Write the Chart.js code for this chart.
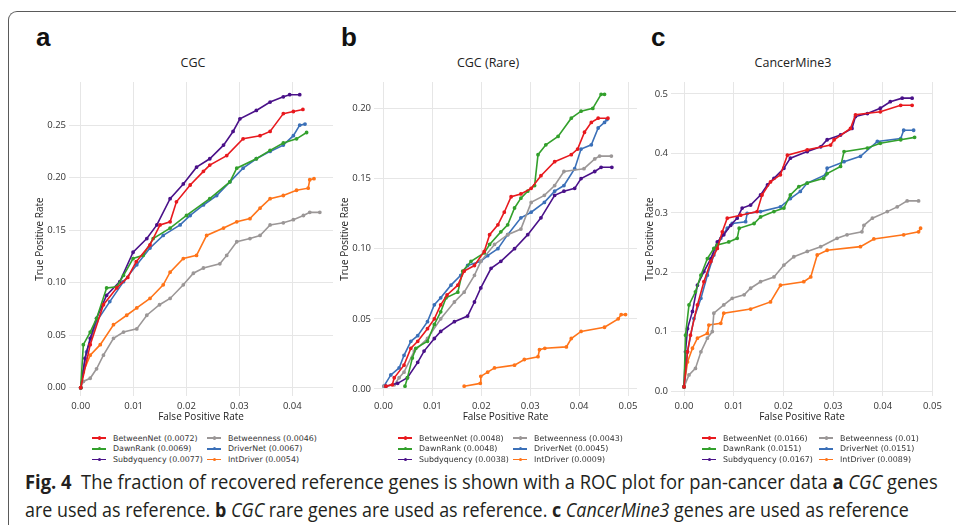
<!DOCTYPE html>
<html>
<head>
<meta charset="utf-8">
<script src="https://cdn.jsdelivr.net/npm/chart.js@4.4.1/dist/chart.umd.min.js"></script>
<style>
  body { margin: 0; width: 956px; height: 525px; background: #fff; position: relative; overflow: hidden; font-family: 'Open Sans', sans-serif; }
  .frame { position: absolute; left: 8px; top: 11px; width: 1000px; height: 600px; border-top: 1.5px solid #5a5a5a; border-left: 1.5px solid #5a5a5a; border-top-left-radius: 9px; }
  .letter { position: absolute; top: 22px; font: bold 26px 'Liberation Sans', Arial, sans-serif; color: #111; }
  .ptitle { position: absolute; top: 54px; font-size: 12.5px; color: #222; transform: translateX(-50%); white-space: nowrap; }
  canvas { position: absolute; top: 40px; }
  .legend { position: absolute; top: 432.7px; display: grid; grid-template-rows: repeat(3, 10.7px); grid-auto-flow: column; font: 7.9px 'DejaVu Sans', sans-serif; color: #333; }
  .item { display: flex; align-items: center; white-space: nowrap; }
  .swatch { width: 14px; height: 1.6px; position: relative; margin-right: 7px; }
  .swatch i { position: absolute; left: 5.5px; top: -0.9px; width: 3.4px; height: 3.4px; border-radius: 50%; }
  .caption { position: absolute; left: 25px; font-size: 20px; line-height: 28px; color: #231f20; white-space: nowrap; transform-origin: left center; }
</style>
</head>
<body>
<div class="frame"></div>
<div class="letter" style="left:36px">a</div>
<div class="letter" style="left:341px">b</div>
<div class="letter" style="left:651px">c</div>
<div class="ptitle" style="left:193px">CGC</div>
<div class="ptitle" style="left:488px">CGC (Rare)</div>
<div class="ptitle" style="left:793px">CancerMine3</div>
<canvas id="cgc" width="345" height="392" style="left:0px"></canvas>
<canvas id="rare" width="320" height="392" style="left:330px"></canvas>
<canvas id="cm3" width="326" height="392" style="left:630px"></canvas>
<div class="caption" id="cap1" style="top:468px"><b>Fig. 4</b>&nbsp; The fraction of recovered reference genes is shown with a ROC plot for pan-cancer data <b>a</b> <i>CGC</i> genes</div>
<div class="caption" id="cap2" style="top:496px">are used as reference. <b>b</b> <i>CGC</i> rare genes are used as reference. <b>c</b> <i>CancerMine3</i> genes are used as reference</div>

<script>
const methods = ['BetweenNet', 'DawnRank', 'Subdyquency', 'Betweenness', 'DriverNet', 'IntDriver']
const colors = ['#e8191e', '#33a02c', '#4a1189', '#9b9797', '#3b70b8', '#ff7419']

// area under curve shown in legends
const cgcAuc = [0.0072, 0.0069, 0.0077, 0.0046, 0.0067, 0.0054]
const rareAuc = [0.0048, 0.0048, 0.0038, 0.0043, 0.0045, 0.0009]
const cm3Auc = [0.0166, 0.0151, 0.0167, 0.01, 0.0151, 0.0089]

// ===== a: CGC  [fpr, tpr] =====
const cgcBetweenNet = [[0,0],[0.0018,0.041],[0.0043,0.079],[0.0068,0.095],[0.0089,0.105],[0.0105,0.12],[0.0131,0.136],[0.015,0.155],[0.0169,0.158],[0.0181,0.177],[0.0207,0.193],[0.0232,0.206],[0.0244,0.212],[0.0276,0.221],[0.0307,0.237],[0.0339,0.24],[0.0358,0.244],[0.0383,0.261],[0.0402,0.263],[0.042,0.265]]
const cgcDawnRank = [[0,0],[0.0005,0.041],[0.0018,0.053],[0.003,0.066],[0.0049,0.095],[0.0068,0.096],[0.0081,0.107],[0.0099,0.123],[0.0118,0.126],[0.0137,0.142],[0.0169,0.152],[0.02,0.164],[0.0244,0.18],[0.0282,0.196],[0.0295,0.209],[0.0332,0.218],[0.0358,0.226],[0.0383,0.233],[0.0408,0.237],[0.0427,0.243]]
const cgcSubdyquency = [[0,0],[0.0008,0.028],[0.0018,0.047],[0.003,0.066],[0.0049,0.088],[0.0074,0.101],[0.0099,0.129],[0.0125,0.142],[0.0144,0.155],[0.0169,0.18],[0.0194,0.194],[0.0219,0.21],[0.0244,0.218],[0.027,0.231],[0.0288,0.244],[0.0301,0.256],[0.0332,0.264],[0.0358,0.272],[0.0383,0.277],[0.0395,0.279],[0.0414,0.279]]
const cgcBetweenness = [[0,0],[0.0005,0.006],[0.0018,0.009],[0.003,0.018],[0.0043,0.031],[0.0062,0.047],[0.0081,0.053],[0.0106,0.056],[0.0125,0.069],[0.0149,0.079],[0.0169,0.085],[0.0194,0.098],[0.0213,0.109],[0.0232,0.114],[0.0263,0.118],[0.0276,0.126],[0.0295,0.139],[0.032,0.142],[0.0339,0.145],[0.0358,0.155],[0.0383,0.157],[0.0402,0.16],[0.0421,0.164],[0.0433,0.167],[0.0452,0.167]]
const cgcDriverNet = [[0,0],[0.0011,0.034],[0.003,0.063],[0.0055,0.082],[0.0081,0.101],[0.0106,0.117],[0.0131,0.133],[0.0156,0.145],[0.0188,0.155],[0.0207,0.164],[0.0232,0.174],[0.0257,0.183],[0.0282,0.196],[0.0307,0.209],[0.0332,0.218],[0.0358,0.225],[0.0383,0.231],[0.0402,0.24],[0.0414,0.25],[0.0424,0.251]]
const cgcIntDriver = [[0,0],[0.0005,0.015],[0.0018,0.031],[0.0037,0.041],[0.0062,0.06],[0.0087,0.069],[0.0106,0.076],[0.0131,0.085],[0.0156,0.098],[0.0169,0.11],[0.0194,0.123],[0.0219,0.126],[0.0238,0.145],[0.027,0.152],[0.0295,0.158],[0.032,0.161],[0.0339,0.171],[0.0358,0.18],[0.0383,0.183],[0.0408,0.188],[0.043,0.19],[0.0433,0.198],[0.0441,0.199]]

// ===== b: CGC (Rare) =====
const rareBetweenNet = [[0.0005,0.002],[0.0018,0.003],[0.0022,0.008],[0.0042,0.017],[0.0056,0.029],[0.007,0.034],[0.009,0.043],[0.0104,0.05],[0.0117,0.06],[0.013,0.067],[0.0152,0.074],[0.0165,0.084],[0.0186,0.088],[0.0206,0.098],[0.0217,0.11],[0.0234,0.117],[0.0247,0.126],[0.0261,0.137],[0.0281,0.139],[0.0302,0.143],[0.0322,0.152],[0.035,0.162],[0.0384,0.167],[0.0397,0.171],[0.0411,0.183],[0.0425,0.19],[0.0439,0.193],[0.0459,0.193]]
const rareDawnRank = [[0.0044,0.002],[0.0049,0.008],[0.0059,0.022],[0.0066,0.029],[0.009,0.034],[0.0104,0.046],[0.0117,0.055],[0.0128,0.065],[0.0152,0.069],[0.0162,0.084],[0.0179,0.091],[0.0206,0.097],[0.0217,0.103],[0.024,0.112],[0.0254,0.117],[0.0268,0.129],[0.0281,0.136],[0.0295,0.141],[0.0309,0.145],[0.0316,0.167],[0.0332,0.174],[0.0357,0.18],[0.0384,0.193],[0.0404,0.198],[0.0428,0.2],[0.0445,0.21],[0.0452,0.21]]
const rareSubdyquency = [[0.0005,0.002],[0.0029,0.004],[0.0049,0.008],[0.007,0.019],[0.0083,0.027],[0.0104,0.036],[0.0117,0.041],[0.0145,0.048],[0.0172,0.052],[0.0186,0.062],[0.0199,0.072],[0.022,0.086],[0.024,0.091],[0.0268,0.1],[0.0295,0.11],[0.0322,0.122],[0.035,0.138],[0.0369,0.141],[0.0391,0.143],[0.0404,0.15],[0.0432,0.155],[0.0445,0.158],[0.0467,0.158]]
const rareBetweenness = [[0.0001,0.002],[0.0022,0.003],[0.0032,0.008],[0.0042,0.012],[0.0063,0.027],[0.009,0.036],[0.0117,0.05],[0.0145,0.062],[0.0165,0.069],[0.0186,0.081],[0.0199,0.091],[0.0227,0.103],[0.0254,0.11],[0.0281,0.114],[0.0302,0.133],[0.0329,0.138],[0.035,0.145],[0.0369,0.155],[0.041,0.157],[0.0432,0.164],[0.0442,0.166],[0.0466,0.166]]
const rareDriverNet = [[0.0001,0.002],[0.0015,0.01],[0.0032,0.015],[0.0042,0.024],[0.0056,0.034],[0.007,0.038],[0.009,0.048],[0.0104,0.06],[0.0117,0.065],[0.0138,0.074],[0.0158,0.081],[0.0172,0.088],[0.0199,0.091],[0.0213,0.095],[0.0234,0.1],[0.0254,0.11],[0.0281,0.122],[0.0302,0.126],[0.0329,0.133],[0.035,0.141],[0.0369,0.145],[0.0391,0.157],[0.0404,0.171],[0.0425,0.174],[0.0439,0.186],[0.0452,0.19],[0.0457,0.192]]
const rareIntDriver = [[0.0165,0.002],[0.0198,0.004],[0.0199,0.009],[0.0213,0.012],[0.0227,0.015],[0.0268,0.017],[0.0288,0.021],[0.0316,0.023],[0.0319,0.028],[0.033,0.029],[0.0374,0.03],[0.0384,0.036],[0.0404,0.041],[0.0452,0.044],[0.048,0.05],[0.0486,0.053],[0.0495,0.053]]

// ===== c: CancerMine3 =====
const cm3BetweenNet = [[0,0.007],[0.0007,0.066],[0.0013,0.094],[0.0027,0.145],[0.004,0.184],[0.0054,0.218],[0.0067,0.24],[0.0077,0.268],[0.0087,0.291],[0.0114,0.296],[0.0147,0.302],[0.0157,0.33],[0.0174,0.352],[0.0194,0.364],[0.0208,0.397],[0.0248,0.406],[0.0295,0.414],[0.0302,0.423],[0.0335,0.442],[0.0345,0.465],[0.0395,0.47],[0.0436,0.481],[0.0459,0.481]]
const cm3DawnRank = [[0,0.007],[0.0003,0.094],[0.001,0.145],[0.0023,0.167],[0.0034,0.195],[0.0047,0.223],[0.006,0.24],[0.0067,0.246],[0.009,0.251],[0.0107,0.257],[0.0111,0.274],[0.0141,0.282],[0.0154,0.293],[0.0181,0.302],[0.0201,0.308],[0.0214,0.33],[0.0231,0.344],[0.0248,0.35],[0.0281,0.358],[0.0288,0.366],[0.0315,0.378],[0.0322,0.403],[0.0369,0.409],[0.0395,0.417],[0.0436,0.423],[0.0464,0.427]]
const cm3Subdyquency = [[0,0.007],[0.0003,0.066],[0.0007,0.105],[0.0017,0.134],[0.0027,0.178],[0.004,0.201],[0.0054,0.223],[0.0067,0.251],[0.008,0.263],[0.0094,0.279],[0.0107,0.291],[0.0117,0.308],[0.0134,0.313],[0.0154,0.33],[0.0168,0.347],[0.0181,0.358],[0.0201,0.375],[0.0214,0.392],[0.0248,0.403],[0.0275,0.411],[0.0288,0.423],[0.0315,0.431],[0.0338,0.442],[0.0345,0.462],[0.0369,0.467],[0.0395,0.476],[0.0415,0.487],[0.0439,0.493],[0.0459,0.493]]
const cm3Betweenness = [[0,0.007],[0.001,0.027],[0.0023,0.038],[0.0034,0.066],[0.0047,0.089],[0.0057,0.1],[0.006,0.131],[0.008,0.145],[0.0097,0.156],[0.0121,0.162],[0.0134,0.173],[0.0154,0.184],[0.0181,0.192],[0.0201,0.212],[0.0221,0.226],[0.0248,0.235],[0.0275,0.243],[0.0308,0.257],[0.0328,0.263],[0.0358,0.268],[0.0362,0.279],[0.0379,0.291],[0.0409,0.302],[0.0429,0.31],[0.0449,0.32],[0.0472,0.32]]
const cm3DriverNet = [[0,0.007],[0.0007,0.066],[0.002,0.122],[0.0034,0.156],[0.0047,0.195],[0.006,0.229],[0.0074,0.257],[0.0087,0.274],[0.0097,0.282],[0.0124,0.285],[0.0127,0.299],[0.0154,0.302],[0.0194,0.31],[0.0214,0.324],[0.0234,0.336],[0.0248,0.35],[0.0285,0.364],[0.0288,0.375],[0.0322,0.386],[0.0355,0.395],[0.0389,0.42],[0.0436,0.425],[0.0442,0.439],[0.0462,0.439]]
const cm3IntDriver = [[0,0.007],[0.0007,0.049],[0.0017,0.072],[0.0027,0.089],[0.0047,0.097],[0.005,0.111],[0.0074,0.114],[0.008,0.131],[0.0134,0.138],[0.0174,0.15],[0.0194,0.178],[0.0241,0.184],[0.0255,0.192],[0.0268,0.229],[0.0288,0.237],[0.0355,0.243],[0.0382,0.256],[0.0442,0.263],[0.0472,0.268],[0.0476,0.274]]

const panels = [
    { id: 'cgc', series: [cgcBetweenNet, cgcDawnRank, cgcSubdyquency, cgcBetweenness, cgcDriverNet, cgcIntDriver], auc: cgcAuc,
      xMin: -0.00221, xMax: 0.04769, yMin: -0.0079, yMax: 0.2911, yStep: 0.05, yDigits: 2,
      yWidth: 69, yTitlePad: 34, padRight: 12, legendLeft: 92, colWidth: 115 },
    { id: 'rare', series: [rareBetweenNet, rareDawnRank, rareSubdyquency, rareBetweenness, rareDriverNet, rareIntDriver], auc: rareAuc,
      xMin: -0.00194, xMax: 0.05184, yMin: -0.005, yMax: 0.2188, yStep: 0.05, yDigits: 2,
      yWidth: 44, yTitlePad: 9, padRight: 13, legendLeft: 398, colWidth: 115 },
    { id: 'cm3', series: [cm3BetweenNet, cm3DawnRank, cm3Subdyquency, cm3Betweenness, cm3DriverNet, cm3IntDriver], auc: cm3Auc,
      xMin: -0.00262, xMax: 0.0501, yMin: -0.0084, yMax: 0.5202, yStep: 0.1, yDigits: 1,
      yWidth: 41, yTitlePad: 14, padRight: 23, legendLeft: 702, colWidth: 117 }
]

const tickFont = { family: 'Open Sans', size: 9.5 }
const axisFont = { family: 'Open Sans', size: 10 }

panels.forEach((p) => {
    let datasets = methods.map((m, i) => ({
        label: m,
        data: p.series[i].map(pt => ({ x: pt[0], y: pt[1] })),
        borderColor: colors[i],
        backgroundColor: colors[i],
        borderWidth: 1.6,
        pointRadius: 1.1,
        pointHoverRadius: 0,
        tension: 0
    }))

    new Chart(document.getElementById(p.id), {
        type: 'line',
        data: { datasets: datasets },
        options: {
            responsive: false,
            animation: false,
            layout: { padding: { left: 0, right: p.padRight, top: 42, bottom: 0 } },
            plugins: { legend: { display: false }, tooltip: { enabled: false } },
            scales: {
                x: {
                    type: 'linear', min: p.xMin, max: p.xMax,
                    ticks: { stepSize: 0.01, includeBounds: false, callback: v => v.toFixed(2), font: tickFont, color: '#333', padding: 5 },
                    grid: { color: '#e6e6e6', drawTicks: false },
                    border: { display: false },
                    title: { display: true, text: 'False Positive Rate', font: axisFont, color: '#222', padding: { top: 0, bottom: 9 } },
                    afterFit: (s) => { s.height = 36; s.paddingLeft = 0; s.paddingRight = 0 }
                },
                y: {
                    type: 'linear', min: p.yMin, max: p.yMax,
                    ticks: { stepSize: p.yStep, includeBounds: false, callback: v => v.toFixed(p.yDigits), font: tickFont, color: '#333', padding: 3 },
                    grid: { color: '#e6e6e6', drawTicks: false },
                    border: { display: false },
                    title: { display: true, text: 'True Positive Rate', font: axisFont, color: '#222', padding: { top: p.yTitlePad, bottom: 0 } },
                    afterFit: (s) => { s.width = p.yWidth; s.paddingTop = 0; s.paddingBottom = 0 }
                }
            }
        }
    })

    // legend: two columns, three rows
    let legend = document.createElement('div')
    legend.className = 'legend'
    legend.style.left = p.legendLeft + 'px'
    legend.style.gridTemplateColumns = p.colWidth + 'px auto'
    methods.forEach((m, i) => {
        legend.innerHTML += `<div class="item"><span class="swatch" style="background:${colors[i]}"><i style="background:${colors[i]}"></i></span>${m} (${p.auc[i]})</div>`
    })
    document.body.appendChild(legend)
})

// squeeze caption lines to the width of the printed caption
function fitCaption() {
    let cap1 = document.getElementById('cap1')
    let cap2 = document.getElementById('cap2')
    cap1.style.transform = `scaleX(${913 / cap1.offsetWidth})`
    cap2.style.transform = `scaleX(${884 / cap2.offsetWidth})`
}
fitCaption()
</script>
</body>
</html>
